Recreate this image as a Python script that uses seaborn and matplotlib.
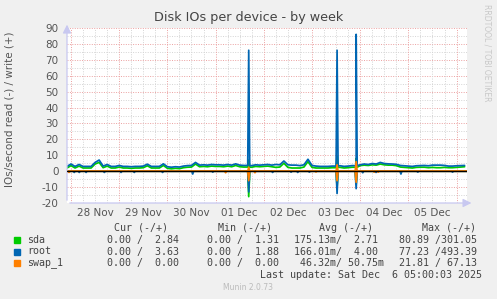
import numpy as np
import pandas as pd
import matplotlib
matplotlib.use("Agg")
import matplotlib.pyplot as plt
import seaborn as sns

# ---------------- data (hours since 28 Nov 00:00) ----------------
hours = list(range(-2, 197, 2))
root_write = [3.0, 4.5, 3.0, 4.2, 3.0, 3.0, 3.0, 5.5, 7.0, 3.2,
              4.2, 3.0, 3.0, 3.6, 3.0, 3.0, 2.8, 3.0, 3.0, 3.2,
              4.4, 3.0, 3.0, 3.0, 4.6, 2.8, 2.5, 2.8, 2.6, 3.2,
              3.5, 3.6, 5.5, 3.8, 4.0, 3.8, 4.2, 4.0, 4.0, 3.8,
              4.2, 3.8, 4.6, 3.8, 3.6, 3.6, 3.5, 4.0, 3.8, 4.0,
              4.2, 3.8, 4.2, 4.0, 6.4, 4.0, 3.8, 3.8, 3.5, 4.0,
              7.5, 3.6, 3.2, 3.0, 3.0, 3.0, 3.2, 3.2, 3.4, 3.0,
              3.2, 3.5, 3.5, 4.0, 4.5, 4.2, 4.8, 4.5, 5.5, 4.8,
              4.6, 4.5, 4.3, 3.6, 3.4, 3.2, 3.0, 3.4, 3.5, 3.6,
              3.4, 3.8, 3.8, 3.8, 3.6, 3.2, 3.2, 3.4, 3.5, 3.6]
sda_write = [2.0, 3.5, 2.0, 3.2, 2.0, 2.0, 2.0, 4.5, 5.5, 2.2,
             3.2, 2.0, 2.0, 2.6, 2.0, 2.0, 1.8, 2.0, 2.0, 2.2,
             3.4, 2.0, 2.0, 2.0, 3.6, 1.8, 1.5, 1.8, 1.6, 2.2,
             2.5, 2.6, 4.5, 2.8, 3.0, 2.8, 3.2, 3.0, 3.0, 2.8,
             3.2, 2.8, 3.6, 2.8, 2.6, 2.6, 2.5, 3.0, 2.8, 3.0,
             3.2, 2.8, 2.4, 2.6, 5.0, 2.4, 2.0, 2.0, 2.0, 2.6,
             6.0, 2.4, 2.0, 2.0, 2.0, 2.0, 2.2, 2.2, 2.4, 2.0,
             2.2, 2.5, 2.5, 3.5, 3.8, 3.6, 4.0, 3.8, 4.5, 4.0,
             3.8, 3.8, 3.5, 2.6, 2.4, 2.2, 2.0, 2.4, 2.5, 2.5,
             2.2, 2.4, 2.2, 2.2, 2.4, 2.2, 2.2, 2.4, 2.6, 2.8]

spike_hours = [88.5, 132.5, 142.0]
sda_write_spike = [7.0, 9.5, 8.0]
root_write_spike = [76.0, 76.0, 86.0]
swap_write_spike = [2.5, 4.0, 6.0]
sda_read_spike = [-16.0, -10.0, -8.0]
root_read_spike = [-13.0, -14.0, -11.0]
swap_read_spike = [-6.0, -6.0, -7.0]

root_dip_hours = [1.6, 4.1, 7.5, 16.6, 24.9, 31.5, 45.6, 60.6, 70.6,
                  100.4, 109.6, 112.9, 118.7, 145.3, 151.9, 164.3, 172.7, 190.0]
root_dips = [-0.8, -0.8, -0.8, -0.8, -0.8, -0.8, -0.8, -1.8, -0.6,
             -0.8, -0.6, -0.8, -0.6, -1.0, -0.8, -1.8, -0.6, -0.6]
swap_dip_hours = [-1.0, 77.0, 91.6, 122.0, 151.0, 153.0]
swap_dips = [-0.8, -1.0, -1.0, -0.5, -0.6, -0.6]

y_ticks = [-20, -10, 0, 10, 20, 30, 40, 50, 60, 70, 80, 90]
day_hours = [12, 36, 60, 84, 108, 132, 156, 180]
day_labels = ["28 Nov", "29 Nov", "30 Nov", "01 Dec", "02 Dec", "03 Dec", "04 Dec", "05 Dec"]

legend_names = ["sda", "root", "swap_1"]
legend_colors = ["#00CC00", "#0066B3", "#FF8000"]
cur_vals = ["0.00 /  2.84", "0.00 /  3.63", "0.00 /  0.00"]
min_vals = ["0.00 /  1.31", "0.00 /  1.88", "0.00 /  0.00"]
avg_vals = ["175.13m/  2.71 ", "166.01m/  4.00 ", "46.32m/ 50.75m"]
max_vals = ["80.89 /301.05", "77.23 /493.39", "21.81 / 67.13"]

T0, T1 = -2.0, 197.2


def with_spikes(base_t, base_v, ev_t, ev_v, w=0.5):
    pts = list(zip(base_t, base_v))
    for t, v in zip(ev_t, ev_v):
        # shoulders take the value of the neighbouring sample
        left = max(i for i, bt in enumerate(base_t) if bt <= t)
        right = min(i for i, bt in enumerate(base_t) if bt >= t) if t <= base_t[-1] else left
        pts += [(t - w, base_v[left]), (t, v), (t + w, base_v[right])]
    pts.sort(key=lambda p: p[0])
    return [p[0] for p in pts], [p[1] for p in pts]


zero_t = [T0, T1]
zero_v = [0.0, 0.0]

series = []
st, sv = with_spikes(hours, sda_write, spike_hours, sda_write_spike)
series.append((st, sv, legend_colors[0]))
st, sv = with_spikes(zero_t, zero_v, spike_hours, sda_read_spike)
series.append((st, sv, legend_colors[0]))
st, sv = with_spikes(hours, root_write, spike_hours, root_write_spike)
series.append((st, sv, legend_colors[1]))
st, sv = with_spikes(zero_t, zero_v, spike_hours + root_dip_hours, root_read_spike + root_dips)
series.append((st, sv, legend_colors[1]))
st, sv = with_spikes(zero_t, zero_v, spike_hours, swap_write_spike)
series.append((st, sv, legend_colors[2]))
st, sv = with_spikes(zero_t, zero_v, spike_hours + swap_dip_hours, swap_read_spike + swap_dips)
series.append((st, sv, legend_colors[2]))

# ---------------- figure ----------------
sns.set_style("white")
plt.rcParams["font.family"] = ["DejaVu Sans"]
W, H = 497, 299
fig = plt.figure(figsize=(W / 100, H / 100), dpi=100, facecolor="#F0F0F0")
L, R, TOP, BOT = 67, 467, 28, 203
ax = fig.add_axes([L / W, 1 - BOT / H, (R - L) / W, (BOT - TOP) / H])
ax.set_facecolor("white")
ax.set_xlim(T0, T1)
ax.set_ylim(-20, 90)

red = "#EBA0A0"
grey = "#D4D4D4"
dot = (0, (1, 1.5))
for y in range(-15, 91, 5):
    if y == 0:
        continue
    ax.axhline(y, color=red if y % 10 == 0 else grey, lw=0.7, ls=dot, zorder=0)
for h in range(0, 197, 6):
    ax.axvline(h, color=red if h % 24 == 0 else grey, lw=0.7, ls=dot, zorder=0)

for t, v, c in series:
    sns.lineplot(x=t, y=v, color=c, lw=1.25, sort=False, estimator=None, ax=ax, zorder=3)

ax.axhline(0, color="black", lw=1.0, zorder=5)

for s in ax.spines.values():
    s.set_visible(False)
axis_col = "#C8C8F0"
ax.annotate("", xy=(0, 1.035), xytext=(0, 0), xycoords="axes fraction",
            arrowprops=dict(arrowstyle="-|>,head_length=0.5,head_width=0.25", color=axis_col, lw=0.9),
            annotation_clip=False)
ax.annotate("", xy=(1.018, 0), xytext=(0, 0), xycoords="axes fraction",
            arrowprops=dict(arrowstyle="-|>,head_length=0.5,head_width=0.25", color=axis_col, lw=0.9),
            annotation_clip=False)

ax.set_yticks(y_ticks)
ax.set_yticklabels([str(v) for v in y_ticks])
ax.set_xticks(day_hours)
ax.set_xticklabels(day_labels)
ax.tick_params(axis="y", length=2, width=0.8, color=axis_col, pad=4, labelsize=7.5, labelcolor="#555555")
ax.tick_params(axis="x", length=0, pad=3.5, labelsize=7.5, labelcolor="#555555")
ax.set_xlabel("")
ax.set_ylabel("")

fig.text(248.5 / W, 1 - 18 / H, "Disk IOs per device - by week", ha="center", va="center",
         fontsize=9.2, color="#444444")
fig.text(10 / W, 1 - 109 / H, "IOs/second read (-) / write (+)", rotation=90,
         ha="center", va="center", fontsize=7.5, color="#555555")
fig.text(487 / W, 1 - 53 / H, "RRDTOOL / TOBI OETIKER", rotation=270,
         ha="center", va="center", fontsize=5.5, color="#C8C8C8")

mono = "DejaVu Sans Mono"
fs = 7.2
tc = "#444444"
hy = 1 - 228 / H
for txt, xe in [("Cur (-/+)", 168), ("Min (-/+)", 272), ("Avg (-/+)", 373), ("Max (-/+)", 476)]:
    fig.text(xe / W, hy, txt, ha="right", va="center", family=mono, fontsize=fs, color=tc)
rows_y = [240, 251.5, 263]
for i, yy in enumerate(rows_y):
    fy = 1 - yy / H
    fig.patches.append(plt.Rectangle((14 / W, 1 - (yy + 3) / H), 6 / W, 6 / H,
                                     transform=fig.transFigure, color=legend_colors[i]))
    fig.text(27 / W, fy, legend_names[i], ha="left", va="center", family=mono, fontsize=fs, color=tc)
    fig.text(179 / W, fy, cur_vals[i], ha="right", va="center", family=mono, fontsize=fs, color=tc)
    fig.text(279 / W, fy, min_vals[i], ha="right", va="center", family=mono, fontsize=fs, color=tc)
    fig.text(384 / W, fy, avg_vals[i], ha="right", va="center", family=mono, fontsize=fs, color=tc)
    fig.text(477 / W, fy, max_vals[i], ha="right", va="center", family=mono, fontsize=fs, color=tc)
fig.text(482 / W, 1 - 275.5 / H, "Last update: Sat Dec  6 05:00:03 2025", ha="right", va="center",
         family=mono, fontsize=fs, color=tc)
fig.text(248 / W, 1 - 288 / H, "Munin 2.0.73", ha="center", va="center", fontsize=5.5, color="#BBBBBB")

fig.savefig("out.png", dpi=100, facecolor=fig.get_facecolor())
